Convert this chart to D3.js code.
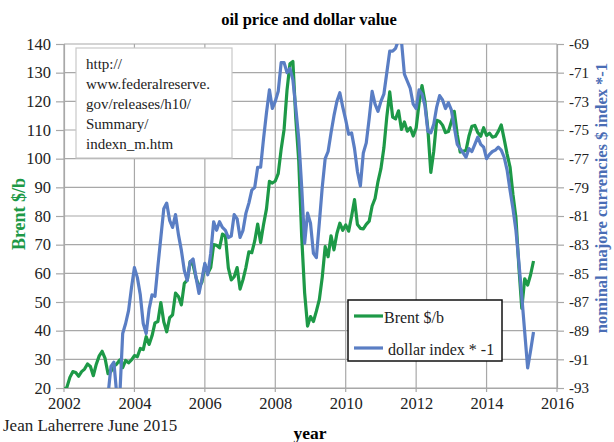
<!DOCTYPE html>
<html>
<head>
<meta charset="utf-8">
<script src="https://cdn.jsdelivr.net/npm/d3@7/dist/d3.min.js"></script>
<style>
  html, body { margin: 0; padding: 0; background: #fff; }
  svg { display: block; }
  text { font-family: "Liberation Serif", "Times New Roman", serif; }
</style>
</head>
<body>
<svg id="chart" width="614" height="442"></svg>
<script>
// Monthly series, January 2002 through May 2015
const startYear = 2002;

// Brent crude, monthly average, $/b
const brent = [
  19.4, 20.3, 23.7, 25.7, 25.4, 24.1, 25.7, 26.6, 28.4, 27.5, 24.3, 28.3,   // 2002
  31.2, 32.8, 30.3, 25.0, 25.8, 27.6, 28.4, 29.8, 27.1, 29.6, 28.8, 29.8,   // 2003
  31.3, 30.9, 33.8, 33.4, 37.9, 35.2, 38.2, 42.7, 43.2, 49.8, 43.1, 39.6,   // 2004
  44.5, 45.5, 53.1, 51.9, 49.0, 56.5, 57.6, 64.1, 62.9, 58.5, 55.2, 56.9,   // 2005
  63.0, 60.0, 62.0, 70.0, 69.8, 68.9, 73.7, 73.1, 61.9, 57.7, 58.8, 62.0,   // 2006
  54.5, 57.8, 62.1, 67.5, 67.2, 71.3, 77.2, 70.8, 77.0, 82.5, 92.1, 91.5,   // 2007
  92.2, 94.8, 103.3, 110.2, 123.9, 133.1, 133.9, 113.9, 99.1, 72.8, 53.2, 41.6, // 2008
  44.9, 43.2, 46.8, 50.8, 58.6, 69.3, 65.8, 73.1, 68.2, 73.9, 77.5, 75.0,   // 2009
  76.9, 74.7, 79.9, 85.7, 77.0, 75.7, 75.5, 77.1, 78.2, 83.5, 86.1, 92.0,   // 2010
  96.5, 103.7, 114.6, 123.3, 114.5, 113.9, 116.7, 110.2, 112.8, 109.6, 110.8, 107.9, // 2011
  110.7, 119.3, 125.5, 119.8, 110.3, 95.2, 102.6, 113.4, 113.0, 111.7, 109.1, 109.5, // 2012
  112.9, 116.5, 108.5, 102.3, 102.6, 102.9, 107.9, 111.3, 111.6, 109.1, 107.8, 110.8, // 2013
  108.1, 108.9, 107.5, 107.8, 109.5, 111.8, 106.8, 101.6, 97.1, 87.4, 79.4, 62.3,    // 2014
  47.8, 58.1, 55.9, 59.5, 64.3                                               // 2015
];

// Nominal major currencies dollar index (plotted multiplied by -1)
const dollarIndex = [
  108.0, 108.7, 107.6, 106.5, 103.6, 100.6, 97.5, 98.6, 99.2, 99.6, 98.1, 97.2, // 2002
  96.0, 95.0, 94.5, 93.5, 91.5, 91.2, 93.5, 93.6, 89.2, 88.5, 87.6, 86.0,      // 2003
  84.6, 85.3, 86.5, 88.5, 89.2, 87.5, 86.5, 86.6, 84.5, 82.5, 80.5, 80.1,      // 2004
  81.3, 81.8, 80.9, 82.3, 83.4, 84.8, 85.5, 84.2, 84.0, 85.3, 86.4, 85.4,      // 2005
  84.3, 85.1, 83.6, 81.4, 82.0, 81.4, 81.8, 82.0, 82.5, 82.4, 80.9, 81.2,      // 2006
  82.5, 82.0, 80.8, 80.1, 79.2, 79.0, 77.6, 77.6, 75.6, 73.8, 72.2, 73.5,      // 2007
  73.0, 72.3, 70.3, 70.3, 71.0, 70.7, 71.5, 73.5, 75.6, 79.0, 82.9, 80.8,      // 2008
  81.5, 83.6, 83.9, 81.5, 79.0, 77.0, 76.5, 75.2, 74.0, 73.0, 72.4, 73.4,      // 2009
  74.3, 75.3, 75.2, 76.3, 77.9, 78.9, 76.6, 75.9, 74.2, 72.3, 73.2, 73.7,      // 2010
  73.0, 72.5, 71.0, 69.5, 69.5, 69.3, 68.7, 68.8, 71.1, 71.6, 72.1, 73.2,      // 2011
  73.5, 72.2, 72.5, 73.3, 75.1, 75.2, 74.6, 73.4, 72.6, 72.9, 73.5, 73.1,      // 2012
  73.6, 74.8, 76.0, 76.3, 76.6, 76.9, 76.3, 76.5, 76.0, 75.5, 76.0, 76.2,      // 2013
  77.0, 76.7, 76.5, 76.4, 76.2, 76.4, 76.9, 77.8, 79.2, 80.5, 82.0, 84.2,      // 2014
  86.6, 89.1, 91.6, 90.4, 89.1                                                 // 2015
];

const yearTicks  = [2002, 2004, 2006, 2008, 2010, 2012, 2014, 2016];
const brentTicks = [20, 30, 40, 50, 60, 70, 80, 90, 100, 110, 120, 130, 140];
const indexTicks = [-93, -91, -89, -87, -85, -83, -81, -79, -77, -75, -73, -71, -69];

const sourceLines = ["http://", "www.federalreserve.", "gov/releases/h10/", "Summary/", "indexn_m.htm"];
const seriesNames = ["Brent $/b", "dollar index * -1"];

const GREEN = "#1d9947";
const BLUE  = "#5a7ec4";
const GRID  = "#a8a8a8";

const svg = d3.select("#chart");
const plot = { left: 64, right: 557, top: 44, bottom: 388 };

const x  = d3.scaleLinear().domain([2002, 2016]).range([plot.left, plot.right]);
const yL = d3.scaleLinear().domain([20, 140]).range([plot.bottom, plot.top]);
const yR = d3.scaleLinear().domain([-93, -69]).range([plot.bottom, plot.top]);

const t = i => startYear + i / 12;

// title
svg.append("text").attr("x", 309).attr("y", 25).attr("text-anchor", "middle")
  .attr("font-weight", "bold").attr("font-size", 16.5).text("oil price and dollar value");

// gridlines
const grid = svg.append("g");
grid.selectAll(".h").data(brentTicks).join("line")
  .attr("x1", plot.left).attr("x2", plot.right)
  .attr("y1", d => yL(d)).attr("y2", d => yL(d))
  .attr("stroke", GRID).attr("stroke-width", 1.2);
grid.selectAll(".v").data(yearTicks).join("line")
  .attr("x1", d => x(d)).attr("x2", d => x(d))
  .attr("y1", plot.top).attr("y2", plot.bottom + 4)
  .attr("stroke", GRID).attr("stroke-width", 1.2);

// left axis
const axL = svg.append("g").attr("transform", `translate(${plot.left},0)`)
  .call(d3.axisLeft(yL).tickValues(brentTicks).tickSize(8).tickPadding(5).tickFormat(d3.format("d")));
// right axis
const axR = svg.append("g").attr("transform", `translate(${plot.right},0)`)
  .call(d3.axisRight(yR).tickValues(indexTicks).tickSize(7).tickPadding(5).tickFormat(d => "-" + Math.abs(d)));
// bottom axis
const axB = svg.append("g").attr("transform", `translate(0,${plot.bottom})`)
  .call(d3.axisBottom(x).tickValues(yearTicks).tickSize(0).tickPadding(9).tickFormat(d3.format("d")));

[axL, axR, axB].forEach(a => {
  a.selectAll("path.domain").attr("stroke", GRID).attr("stroke-width", 1.2);
  a.selectAll(".tick line").attr("stroke", GRID).attr("stroke-width", 1.2);
  a.selectAll("text").attr("font-size", 16.5).attr("fill", "#222")
    .attr("font-family", "Liberation Serif, serif");
});
axR.selectAll("text").attr("font-size", 15);

// clip to the plotting area
svg.append("clipPath").attr("id", "plotClip").append("rect")
  .attr("x", plot.left).attr("y", plot.top)
  .attr("width", plot.right - plot.left).attr("height", plot.bottom - plot.top);

const lines = svg.append("g").attr("clip-path", "url(#plotClip)");
lines.append("path").datum(brent)
  .attr("fill", "none").attr("stroke", GREEN).attr("stroke-width", 3.2)
  .attr("stroke-linejoin", "round")
  .attr("d", d3.line().x((d, i) => x(t(i))).y(d => yL(d)));
lines.append("path").datum(dollarIndex)
  .attr("fill", "none").attr("stroke", BLUE).attr("stroke-width", 3.2)
  .attr("stroke-linejoin", "round")
  .attr("d", d3.line().x((d, i) => x(t(i))).y(d => yR(-d)));

// source note box
const note = svg.append("g");
note.append("rect").attr("x", 76).attr("y", 48).attr("width", 156).attr("height", 110)
  .attr("fill", "#fff").attr("stroke", "#c8c8c8").attr("stroke-width", 1.2);
note.selectAll("text").data(sourceLines).join("text")
  .attr("x", 86).attr("y", (d, i) => 69 + i * 20)
  .attr("font-size", 15).attr("fill", "#222").text(d => d);

// legend
const leg = svg.append("g");
leg.append("rect").attr("x", 348).attr("y", 300).attr("width", 154).attr("height", 61)
  .attr("fill", "#fff").attr("stroke", "#111").attr("stroke-width", 1.5);
const legRows = [
  { name: seriesNames[0], color: GREEN, y: 316, tx: 384 },
  { name: seriesNames[1], color: BLUE,  y: 348, tx: 388 }
];
legRows.forEach(r => {
  leg.append("line").attr("x1", 354).attr("x2", 383).attr("y1", r.y).attr("y2", r.y)
    .attr("stroke", r.color).attr("stroke-width", 3.2);
  leg.append("text").attr("x", r.tx).attr("y", r.y + 7).attr("font-size", 16)
    .attr("fill", "#222").text(r.name);
});

// axis titles
svg.append("text").attr("transform", "translate(25,214) rotate(-90)")
  .attr("text-anchor", "middle").attr("font-weight", "bold").attr("font-size", 18)
  .attr("fill", GREEN).text("Brent $/b");
svg.append("text").attr("transform", "translate(607,198) rotate(-90)")
  .attr("text-anchor", "middle").attr("font-weight", "bold").attr("font-size", 16.5)
  .attr("fill", "#4a6db5").text("nominal majore currencies $ index *-1");
svg.append("text").attr("x", 310).attr("y", 439).attr("text-anchor", "middle")
  .attr("font-weight", "bold").attr("font-size", 17.5).text("year");
svg.append("text").attr("x", 3).attr("y", 431).attr("font-size", 17)
  .attr("fill", "#222").text("Jean Laherrere June 2015");
</script>
</body>
</html>
